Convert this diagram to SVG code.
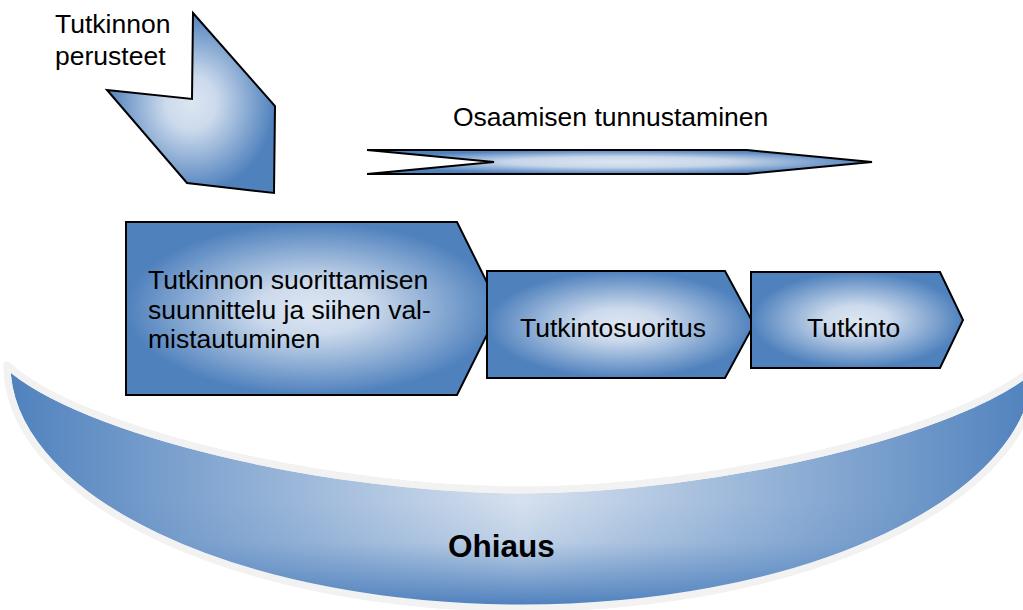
<svg xmlns="http://www.w3.org/2000/svg" width="1023" height="610" viewBox="0 0 1023 610">
<defs>
<style>
.lbl{font-family:"Liberation Sans",Arial,sans-serif;font-size:26.5px;fill:#000}
.bold{font-family:"Liberation Sans",Arial,sans-serif;font-size:31.5px;font-weight:bold;fill:#000}
.shape{stroke:#000;stroke-width:2;stroke-linejoin:miter}
</style>
<radialGradient id="boxGrad" cx="0.5" cy="0.5" r="0.5">
<stop offset="0" stop-color="#dce6f2"/>
<stop offset="0.3" stop-color="#ccdaec"/>
<stop offset="1" stop-color="#4f81bd"/>
</radialGradient>
<radialGradient id="arrowGrad" cx="0.5" cy="0.5" r="0.5">
<stop offset="0" stop-color="#dce6f2"/>
<stop offset="0.45" stop-color="#c6d5e9"/>
<stop offset="1" stop-color="#4f81bd"/>
</radialGradient>
<linearGradient id="bandH" x1="7" y1="0" x2="1037" y2="0" gradientUnits="userSpaceOnUse">
<stop offset="0" stop-color="#4f81bd"/>
<stop offset="0.5" stop-color="#d6e1ef"/>
<stop offset="1" stop-color="#4f81bd"/>
</linearGradient>
<linearGradient id="bandV" x1="0" y1="500" x2="0" y2="605" gradientUnits="userSpaceOnUse">
<stop offset="0" stop-color="#4f81bd" stop-opacity="0"/>
<stop offset="0.4" stop-color="#4f81bd" stop-opacity="0.15"/>
<stop offset="1" stop-color="#4f81bd" stop-opacity="1"/>
</linearGradient>
</defs>
<rect width="1023" height="610" fill="#fff"/>

<g id="ohiaus">
<path d="M9,370 A515 243 0 0 0 1037,368" fill="none" stroke="#a3adbd" stroke-width="2"/>
<path id="band" d="M7,365 C80,432 330,490 522,490 C714,490 964,432 1037,365 A515 243 0 0 1 7,365 Z" fill="url(#bandH)" stroke="#f2f2f2" stroke-width="7" stroke-linejoin="round"/>
<path d="M7,365 C80,432 330,490 522,490 C714,490 964,432 1037,365 A515 243 0 0 1 7,365 Z" fill="url(#bandV)" stroke="none"/>
<path d="M7,365 C80,432 330,490 522,490 C714,490 964,432 1037,365 A515 243 0 0 1 7,365 Z" fill="none" stroke="#f2f2f2" stroke-width="7" stroke-linejoin="round"/>
<text class="bold" x="448" y="557">Ohiaus</text>
</g>

<g id="tutkinnon-perusteet">
<path class="shape" d="M193,13 L275,106 L274,193 L187,183 L107,90 L192,99 Z" fill="url(#boxGrad)" stroke-width="1.5"/>
<text class="lbl" x="55" y="33">Tutkinnon</text>
<text class="lbl" x="55" y="65">perusteet</text>
</g>

<g id="osaamisen-tunnustaminen">
<path class="shape" d="M367,150 L747,150 L872,162 L747,174 L367,174 L494,162 Z" fill="url(#arrowGrad)" stroke-width="1.8"/>
<text class="lbl" x="453" y="126">Osaamisen tunnustaminen</text>
</g>

<g id="suunnittelu">
<path class="shape" d="M126,222 L457,222 L500,308.5 L457,395 L126,395 Z" fill="url(#boxGrad)"/>
<text class="lbl" x="148" y="289">Tutkinnon suorittamisen</text>
<text class="lbl" x="148" y="319">suunnittelu ja siihen val-</text>
<text class="lbl" x="148" y="348">mistautuminen</text>
</g>

<g id="tutkintosuoritus">
<path class="shape" d="M487,271 L725,271 L754,324.5 L725,378 L487,378 Z" fill="url(#boxGrad)"/>
<text class="lbl" x="520" y="337">Tutkintosuoritus</text>
</g>

<g id="tutkinto">
<path class="shape" d="M751,272 L940,272 L963,320 L940,368 L751,368 Z" fill="url(#boxGrad)"/>
<text class="lbl" x="807" y="337">Tutkinto</text>
</g>

<g id="connectors"/>
</svg>
